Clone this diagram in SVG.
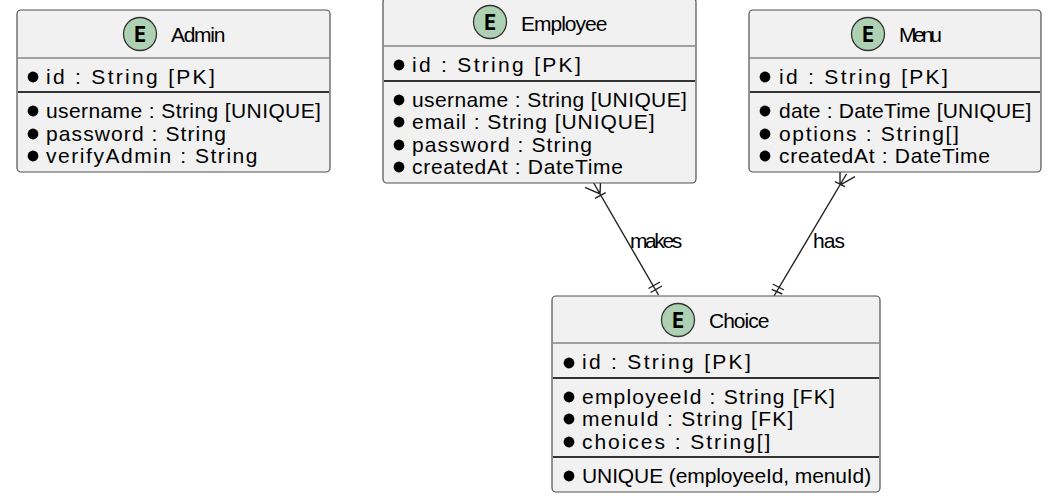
<svg xmlns="http://www.w3.org/2000/svg" width="1059" height="503" viewBox="0 0 1059 503">
<style>
text{font-family:"Liberation Sans",Arial,sans-serif;font-size:21px;fill:#000}
.box{fill:#f1f1f1;stroke:#505050;stroke-width:1.2}
.thin{stroke:#505050;stroke-width:1.2}
.thick{stroke:#333;stroke-width:2}
.circ{fill:#add1b2;stroke:#333;stroke-width:1.3}
.e{font-size:21px;font-weight:bold;text-anchor:middle;font-family:"DejaVu Sans Mono",monospace}
.t{text-anchor:start}
.con{fill:none;stroke:#222;stroke-width:1.4}
</style>
<defs><circle id="dot" r="5.400" fill="#000"/></defs>
<g id="connectors">
<path class="con" d="M593.700 183L658.500 295M585 187.300L600 194L600.700 178.300M595 198.300L605.700 192.700M648.500 288.500L660 282M650.500 292.500L662 286"/>
<path class="con" d="M846.500 174L774 296M840 168.300L840 185L855 176.700M835 181.700L845 186.700M772.700 284L784 290M771.700 289.300L782.300 294"/>
<text x="630" y="248" style="letter-spacing:-2.400px">makes</text>
<text x="813" y="248" style="letter-spacing:-.9px">has</text>
</g>
<g id="admin">
<rect class="box" x="17" y="10" width="313" height="162" rx="4"/>
<circle class="circ" cx="140" cy="34" r="16.500"/><text class="e" x="140" y="41.500">E</text>
<text class="t" x="171" y="42" style="letter-spacing:-1.300px">Admin</text>
<line class="thin" x1="18" y1="58" x2="329" y2="58"/><line class="thick" x1="18" y1="92" x2="329" y2="92"/>
<use href="#dot" x="33" y="77"/><use href="#dot" x="33" y="111"/><use href="#dot" x="33" y="134"/><use href="#dot" x="33" y="156"/>
<text x="46" y="84" style="letter-spacing:2.300px">id : String [PK]</text>
<text x="46" y="118" style="letter-spacing:.4px">username : String [UNIQUE]</text>
<text x="46" y="141" style="letter-spacing:1.100px">password : String</text>
<text x="46" y="163" style="letter-spacing:1.550px">verifyAdmin : String</text>
</g>
<g id="employee">
<rect class="box" x="383" y="-2" width="313" height="185" rx="4"/>
<circle class="circ" cx="490" cy="22" r="16.500"/><text class="e" x="490" y="29.500">E</text>
<text class="t" x="521" y="31" style="letter-spacing:-1px">Employee</text>
<line class="thin" x1="384" y1="46" x2="695" y2="46"/><line class="thick" x1="384" y1="81" x2="695" y2="81"/>
<use href="#dot" x="399" y="65"/><use href="#dot" x="399" y="100"/><use href="#dot" x="399" y="122"/><use href="#dot" x="399" y="145"/><use href="#dot" x="399" y="167"/>
<text x="412" y="72" style="letter-spacing:2.300px">id : String [PK]</text>
<text x="412" y="107" style="letter-spacing:.4px">username : String [UNIQUE]</text>
<text x="412" y="129" style="letter-spacing:.95px">email : String [UNIQUE]</text>
<text x="412" y="152" style="letter-spacing:1.100px">password : String</text>
<text x="412" y="174" style="letter-spacing:.7px">createdAt : DateTime</text>
</g>
<g id="menu">
<rect class="box" x="749" y="10" width="292" height="162" rx="4"/>
<circle class="circ" cx="868" cy="34" r="16.500"/><text class="e" x="868" y="41.500">E</text>
<text class="t" x="899" y="42" style="letter-spacing:-3.200px">Menu</text>
<line class="thin" x1="750" y1="58" x2="1040" y2="58"/><line class="thick" x1="750" y1="92" x2="1040" y2="92"/>
<use href="#dot" x="765" y="77"/><use href="#dot" x="765" y="111"/><use href="#dot" x="765" y="134"/><use href="#dot" x="765" y="156"/>
<text x="779" y="84" style="letter-spacing:2.300px">id : String [PK]</text>
<text x="779" y="118" style="letter-spacing:.2px">date : DateTime [UNIQUE]</text>
<text x="779" y="141" style="letter-spacing:1.650px">options : String[]</text>
<text x="779" y="163" style="letter-spacing:.7px">createdAt : DateTime</text>
</g>
<g id="choice">
<rect class="box" x="552" y="296" width="328" height="196" rx="4"/>
<circle class="circ" cx="678" cy="320" r="16.500"/><text class="e" x="678" y="327.500">E</text>
<text class="t" x="709" y="328" style="letter-spacing:-1px">Choice</text>
<line class="thin" x1="553" y1="343" x2="879" y2="343"/><line class="thick" x1="553" y1="378" x2="879" y2="378"/><line class="thick" x1="553" y1="457" x2="879" y2="457"/>
<use href="#dot" x="569" y="363"/><use href="#dot" x="569" y="397"/><use href="#dot" x="569" y="419"/><use href="#dot" x="569" y="442"/><use href="#dot" x="569" y="476"/>
<text x="582" y="369" style="letter-spacing:2.300px">id : String [PK]</text>
<text x="582" y="404" style="letter-spacing:1.200px">employeeId : String [FK]</text>
<text x="582" y="426" style="letter-spacing:1.300px">menuId : String [FK]</text>
<text x="582" y="449" style="letter-spacing:1.950px">choices : String[]</text>
<text x="582" y="483" style="letter-spacing:-.1px">UNIQUE (employeeId, menuId)</text>
</g>
</svg>
